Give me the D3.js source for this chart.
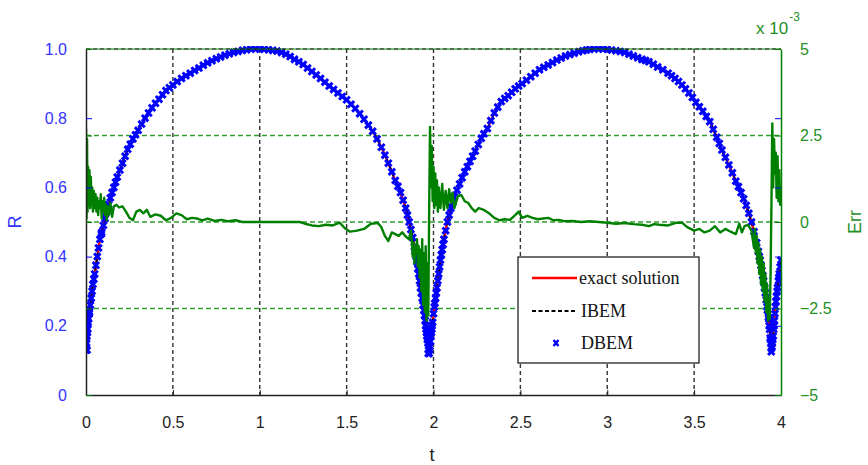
<!DOCTYPE html>
<html>
<head>
<meta charset="utf-8">
<script src="https://cdn.jsdelivr.net/npm/d3@7"></script>
<style>
  body { margin: 0; background: #fff; }
  svg { display: block; }
</style>
</head>
<body>
<div id="chart"></div>
<script>
// exact solution R(t) (IBEM overlaps it)
var exactT = [0, 0.005, 0.01, 0.015, 0.025, 0.035, 0.05, 0.065, 0.08, 0.10, 0.12, 0.14, 0.16, 0.18, 0.21, 0.24, 0.27, 0.30, 0.34, 0.38, 0.42, 0.46, 0.50, 0.55, 0.60, 0.65, 0.70, 0.75, 0.80, 0.85, 0.90, 0.95, 1.00, 1.05, 1.10, 1.15, 1.20, 1.25, 1.30, 1.35, 1.40, 1.45, 1.50, 1.55, 1.60, 1.65, 1.70, 1.74, 1.78, 1.81, 1.84, 1.86, 1.88, 1.90, 1.92, 1.94, 1.955, 1.965, 1.976, 1.985, 1.995, 2.005, 2.02, 2.04, 2.06, 2.08, 2.10, 2.12, 2.15, 2.18, 2.21, 2.24, 2.275, 2.31, 2.35, 2.39, 2.43, 2.47, 2.51, 2.56, 2.61, 2.66, 2.71, 2.76, 2.81, 2.86, 2.90, 2.95, 3.00, 3.05, 3.10, 3.15, 3.20, 3.24, 3.29, 3.35, 3.39, 3.43, 3.47, 3.51, 3.55, 3.59, 3.63, 3.66, 3.70, 3.74, 3.77, 3.80, 3.83, 3.86, 3.88, 3.90, 3.92, 3.935, 3.945, 3.955, 3.968, 3.98, 3.99, 4.00];
var exactR = [0.14, 0.17, 0.19, 0.22, 0.26, 0.30, 0.35, 0.40, 0.45, 0.49, 0.53, 0.57, 0.60, 0.63, 0.67, 0.71, 0.74, 0.765, 0.80, 0.83, 0.855, 0.88, 0.896, 0.915, 0.93, 0.945, 0.96, 0.972, 0.982, 0.99, 0.996, 1.0, 1.0, 0.998, 0.994, 0.985, 0.97, 0.955, 0.935, 0.915, 0.893, 0.873, 0.853, 0.828, 0.797, 0.762, 0.716, 0.67, 0.62, 0.585, 0.54, 0.50, 0.455, 0.40, 0.33, 0.26, 0.20, 0.16, 0.13, 0.17, 0.21, 0.255, 0.31, 0.39, 0.45, 0.50, 0.54, 0.573, 0.61, 0.645, 0.675, 0.705, 0.742, 0.77, 0.815, 0.848, 0.865, 0.885, 0.90, 0.92, 0.94, 0.954, 0.968, 0.98, 0.988, 0.995, 0.999, 1.0, 0.999, 0.995, 0.99, 0.98, 0.97, 0.963, 0.948, 0.93, 0.915, 0.896, 0.873, 0.846, 0.82, 0.79, 0.745, 0.708, 0.665, 0.618, 0.585, 0.548, 0.50, 0.44, 0.39, 0.33, 0.255, 0.19, 0.135, 0.17, 0.255, 0.31, 0.35, 0.39];
var ibemR = exactR; // dashed black line lies on top of the red one

// DBEM markers: the samples above plus these extra markers read in between and at the cusps
var dbemExtraT = [0, 0, 0.003, 0.008, 0.012, 0.02, 0.002, 0.006, 0.04, 0.09, 0.11, 0.13, 0.15, 0.17, 0.195, 0.225, 0.255, 0.285, 0.32, 0.36, 0.40, 0.44, 0.48, 0.525, 0.575, 0.625, 0.675, 0.725, 0.775, 0.825, 0.875, 0.925, 0.975, 1.025, 1.075, 1.125, 1.175, 1.225, 1.275, 1.325, 1.375, 1.425, 1.475, 1.525, 1.575, 1.625, 1.675, 1.72, 1.76, 1.795, 1.825, 1.85, 1.87, 1.89, 1.91, 1.93, 1.948, 1.96, 1.968, 1.972, 1.98, 1.982, 1.97, 1.975, 1.99, 2.0, 2.012, 2.03, 2.05, 2.07, 2.09, 2.11, 2.135, 2.165, 2.195, 2.225, 2.258, 2.29, 2.33, 2.37, 2.41, 2.45, 2.49, 2.535, 2.585, 2.635, 2.685, 2.735, 2.785, 2.835, 2.88, 2.925, 2.975, 3.025, 3.075, 3.125, 3.175, 3.22, 3.265, 3.32, 3.37, 3.41, 3.45, 3.49, 3.53, 3.57, 3.61, 3.645, 3.68, 3.72, 3.755, 3.785, 3.815, 3.845, 3.87, 3.89, 3.91, 3.928, 3.93, 3.938, 3.942, 3.948, 3.95, 3.944, 3.96, 3.962, 3.974, 3.985, 3.995,
  0.018, 0.03, 0.045, 0.057, 0.072, 0.088, 1.895, 1.905, 1.915, 1.925, 1.935, 1.945, 1.952, 1.958, 1.962, 1.988, 1.992, 2.008, 2.016, 2.025, 2.035, 2.045, 2.055, 3.875, 3.885, 3.895, 3.905, 3.915, 3.922, 3.932, 3.94, 3.952, 3.958, 3.965, 3.971, 3.978, 3.988];
var dbemExtraR = [0.13, 0.16, 0.15, 0.18, 0.21, 0.24, 0.2, 0.13, 0.32, 0.47, 0.51, 0.55, 0.585, 0.615, 0.65, 0.69, 0.725, 0.752, 0.783, 0.815, 0.843, 0.868, 0.888, 0.906, 0.923, 0.938, 0.953, 0.966, 0.977, 0.986, 0.993, 0.998, 1.0, 0.999, 0.996, 0.99, 0.978, 0.963, 0.945, 0.925, 0.904, 0.883, 0.863, 0.84, 0.813, 0.78, 0.74, 0.693, 0.645, 0.603, 0.563, 0.52, 0.478, 0.428, 0.365, 0.295, 0.23, 0.18, 0.15, 0.13, 0.14, 0.155, 0.12, 0.12, 0.19, 0.235, 0.28, 0.35, 0.42, 0.475, 0.52, 0.557, 0.592, 0.628, 0.66, 0.69, 0.724, 0.755, 0.793, 0.832, 0.857, 0.875, 0.893, 0.91, 0.93, 0.947, 0.961, 0.974, 0.984, 0.992, 0.997, 1.0, 1.0, 0.997, 0.993, 0.985, 0.975, 0.967, 0.956, 0.94, 0.923, 0.906, 0.885, 0.86, 0.833, 0.805, 0.768, 0.727, 0.687, 0.642, 0.602, 0.567, 0.525, 0.472, 0.415, 0.36, 0.295, 0.225, 0.22, 0.165, 0.15, 0.14, 0.15, 0.125, 0.2, 0.215, 0.285, 0.33, 0.37,
  0.235, 0.28, 0.335, 0.375, 0.425, 0.465, 0.415, 0.385, 0.35, 0.31, 0.28, 0.245, 0.215, 0.19, 0.17, 0.18, 0.2, 0.265, 0.295, 0.33, 0.37, 0.405, 0.435, 0.40, 0.375, 0.345, 0.31, 0.275, 0.245, 0.2, 0.16, 0.16, 0.19, 0.235, 0.27, 0.3, 0.34];

// error (x 10^-3)
var errT = [0, 0.003, 0.006, 0.009, 0.012, 0.016, 0.02, 0.024, 0.028, 0.032, 0.036, 0.04, 0.045, 0.05, 0.055, 0.06, 0.065, 0.07, 0.075, 0.08, 0.085, 0.09, 0.095, 0.1, 0.105, 0.11, 0.115, 0.12, 0.125, 0.13, 0.14, 0.15, 0.16, 0.175, 0.19, 0.21, 0.23, 0.25, 0.27, 0.29, 0.31, 0.33, 0.35, 0.37, 0.40, 0.43, 0.46, 0.49, 0.52, 0.55, 0.58, 0.61, 0.64, 0.67, 0.70, 0.74, 0.78, 0.82, 0.86, 0.90, 1.0, 1.1, 1.2, 1.23, 1.26, 1.30, 1.34, 1.38, 1.42, 1.46, 1.49, 1.52, 1.56, 1.60, 1.64, 1.68, 1.70, 1.72, 1.74, 1.76, 1.78, 1.80, 1.82, 1.84, 1.86, 1.87, 1.875, 1.88, 1.885, 1.89, 1.895, 1.90, 1.905, 1.91, 1.915, 1.92, 1.925, 1.93, 1.935, 1.94, 1.945, 1.95, 1.955, 1.96, 1.965, 1.97, 1.975, 1.98, 1.985, 1.99, 1.995, 2.0, 2.005, 2.01, 2.015, 2.02, 2.025, 2.03, 2.04, 2.05, 2.06, 2.07, 2.08, 2.09, 2.10, 2.11, 2.12, 2.14, 2.16, 2.18, 2.20, 2.22, 2.24, 2.26, 2.29, 2.32, 2.35, 2.38, 2.41, 2.44, 2.47, 2.49, 2.51, 2.54, 2.57, 2.60, 2.63, 2.66, 2.69, 2.72, 2.76, 2.80, 2.85, 2.90, 2.95, 3.0, 3.05, 3.10, 3.15, 3.20, 3.24, 3.27, 3.30, 3.35, 3.40, 3.43, 3.46, 3.50, 3.53, 3.56, 3.59, 3.62, 3.65, 3.68, 3.71, 3.74, 3.76, 3.775, 3.79, 3.81, 3.83, 3.845, 3.85, 3.855, 3.86, 3.865, 3.87, 3.875, 3.88, 3.885, 3.89, 3.895, 3.90, 3.905, 3.91, 3.915, 3.92, 3.925, 3.93, 3.935, 3.94, 3.945, 3.95, 3.955, 3.96, 3.965, 3.97, 3.975, 3.98, 3.985, 3.99, 3.995, 4.0];
var errV = [2.7, 0.1, 2.4, 0.3, 1.6, 0.5, 1.5, 0.4, 1.3, 0.5, 1.0, 0.3, 0.9, 0.4, 0.8, 0.3, 0.7, 0.2, 0.6, 0.4, 0.8, 0.1, 0.6, 0.3, 0.7, 0.2, 0.5, 0.05, 0.45, 0.2, 0.55, 0.15, 0.45, 0.5, 0.42, 0.45, 0.3, 0.12, 0.05, 0.3, 0.35, 0.25, 0.35, 0.15, 0.22, 0.18, 0.05, 0.12, 0.25, 0.2, 0.08, 0.12, 0.1, 0.05, 0.1, 0.03, 0.06, 0.02, 0.05, 0, 0, 0, 0, 0, -0.05, -0.1, -0.12, -0.08, -0.1, -0.02, -0.18, -0.28, -0.25, -0.2, -0.05, -0.03, -0.15, -0.4, -0.55, -0.3, -0.35, -0.4, -0.3, -0.42, -0.5, -0.25, -0.55, -1.0, -0.6, -1.2, -0.7, -0.9, -0.5, -1.3, -0.7, -1.6, -0.8, -2.0, -0.5, -2.4, -0.9, -2.6, -0.7, -2.85, -1.2, -2.7, 0.3, 2.75, 1.0, 2.2, 0.6, 1.6, 0.4, 1.4, 0.5, 1.2, 0.3, 1.0, 0.4, 1.1, 0.35, 0.9, 0.4, 0.95, 0.55, 0.85, 0.4, 0.75, 0.78, 0.6, 0.55, 0.4, 0.3, 0.4, 0.35, 0.25, 0.12, 0.05, 0.08, 0.06, 0.2, 0.3, 0.12, 0.18, 0.12, 0.08, 0.1, 0.12, 0.05, 0.06, 0.02, 0.03, 0, 0.02, 0, -0.02, -0.05, -0.03, -0.06, -0.08, -0.12, -0.06, -0.08, -0.1, -0.02, -0.02, -0.15, -0.25, -0.2, -0.3, -0.25, -0.12, -0.3, -0.2, -0.28, -0.35, -0.05, -0.3, -0.12, -0.08, -0.25, -0.75, -0.2, -0.9, -0.4, -1.2, -0.6, -1.5, -0.8, -1.8, -1.0, -2.0, -1.2, -2.3, -1.5, -2.6, -1.8, -2.85, -2.2, -2.8, -1.5, 0.5, 2.85, 1.0, 2.4, 1.4, 2.0, 0.7, 1.9, 0.6, 1.5, 0.5, 0.7];

var tTicks = [0, 0.5, 1, 1.5, 2, 2.5, 3, 3.5, 4];
var rTicks = [0, 0.2, 0.4, 0.6, 0.8, 1.0];
var errTicks = [-5, -2.5, 0, 2.5, 5];
var legendNames = ["exact solution", "IBEM", "DBEM"];

function draw() {
  var W = 868, H = 465;
  var pL = 86, pR = 781, pT = 49, pB = 395;
  var BLUE = "#0000ff", GREEN = "#008000", RED = "#ff0000";

  var svg = d3.select("#chart").append("svg")
    .attr("width", W).attr("height", H)
    .style("font-family", "'Liberation Sans', Arial, sans-serif");

  svg.append("rect").attr("width", W).attr("height", H).attr("fill", "#fff");

  var x = d3.scaleLinear().domain([0, 4]).range([pL, pR]);
  var yR = d3.scaleLinear().domain([0, 1]).range([pB, pT]);
  var yE = d3.scaleLinear().domain([-5, 5]).range([pB, pT]);

  svg.append("clipPath").attr("id", "clip")
    .append("rect").attr("x", pL).attr("y", pT - 3)
    .attr("width", pR - pL).attr("height", pB - pT + 6);

  // grid lines
  svg.append("g").selectAll("line")
    .data(tTicks.slice(1, -1))
    .enter().append("line")
    .attr("x1", d => x(d)).attr("x2", d => x(d))
    .attr("y1", pT).attr("y2", pB)
    .attr("stroke", "#333").attr("stroke-width", 1.4)
    .attr("stroke-dasharray", "4,3");

  svg.append("g").selectAll("line")
    .data(errTicks.slice(1, -1))
    .enter().append("line")
    .attr("x1", pL).attr("x2", pR)
    .attr("y1", d => yE(d)).attr("y2", d => yE(d))
    .attr("stroke", "#2f9e2f").attr("stroke-width", 1.4)
    .attr("stroke-dasharray", "5,3");

  var plot = svg.append("g").attr("clip-path", "url(#clip)");

  var exact = exactT.map((t, i) => ({ t: t, r: exactR[i] }));
  var ibem = exactT.map((t, i) => ({ t: t, r: ibemR[i] }));
  var dbem = exact.concat(dbemExtraT.map((t, i) => ({ t: t, r: dbemExtraR[i] })));
  var err = errT.map((t, i) => ({ t: t, e: errV[i] }));

  var lineR = d3.line().x(d => x(d.t)).y(d => yR(d.r)).curve(d3.curveMonotoneX);

  plot.append("path").datum(exact)
    .attr("d", lineR).attr("fill", "none")
    .attr("stroke", RED).attr("stroke-width", 2.4);

  plot.append("path").datum(ibem)
    .attr("d", lineR).attr("fill", "none")
    .attr("stroke", "#000").attr("stroke-width", 1.8)
    .attr("stroke-dasharray", "4,3");

  var xMark = "M-3.2,-3.2L3.2,3.2M-3.2,3.2L3.2,-3.2";
  plot.append("g").selectAll("path")
    .data(dbem)
    .enter().append("path")
    .attr("transform", d => "translate(" + x(d.t) + "," + yR(d.r) + ")")
    .attr("d", xMark)
    .attr("stroke", BLUE).attr("stroke-width", 3).attr("fill", "none");

  plot.append("path").datum(err)
    .attr("d", d3.line().x(d => x(d.t)).y(d => yE(d.e)))
    .attr("fill", "none").attr("stroke", GREEN)
    .attr("stroke-width", 2.4).attr("stroke-linejoin", "round");

  // top edge of the box
  svg.append("line").attr("x1", pL).attr("x2", pR).attr("y1", pT).attr("y2", pT)
    .attr("stroke", GREEN).attr("stroke-width", 1.2);
  svg.append("line").attr("x1", pL).attr("x2", pR).attr("y1", pT).attr("y2", pT)
    .attr("stroke", "#222").attr("stroke-width", 1.2).attr("stroke-dasharray", "4,3");

  var xAxis = svg.append("g")
    .attr("transform", "translate(0," + pB + ")")
    .call(d3.axisBottom(x).tickValues(tTicks).tickFormat(d3.format("")).tickSize(-5).tickSizeOuter(0).tickPadding(22));
  xAxis.select(".domain").attr("stroke", "#222").attr("stroke-width", 1.5);
  xAxis.selectAll(".tick line").attr("stroke", "#222");
  xAxis.selectAll("text").attr("fill", "#222").style("font-size", "16px");

  var yAxisL = svg.append("g")
    .attr("transform", "translate(" + pL + ",0)")
    .call(d3.axisLeft(yR).tickValues(rTicks)
      .tickFormat(d => d === 0 ? "0" : d3.format(".1f")(d))
      .tickSize(-6).tickSizeOuter(0).tickPadding(19));
  yAxisL.select(".domain").attr("stroke", "#222").attr("stroke-width", 1.5);
  yAxisL.selectAll(".tick line").attr("stroke", BLUE);
  yAxisL.selectAll("text").attr("fill", "#3333ff").style("font-size", "16px");

  // R ticks repeated on the right edge
  var yAxisL2 = svg.append("g")
    .attr("transform", "translate(" + pR + ",0)")
    .call(d3.axisLeft(yR).tickValues(rTicks).tickFormat("").tickSize(6).tickSizeOuter(0));
  yAxisL2.select(".domain").remove();
  yAxisL2.selectAll(".tick line").attr("stroke", BLUE);

  var yAxisR = svg.append("g")
    .attr("transform", "translate(" + pR + ",0)")
    .call(d3.axisRight(yE).tickValues(errTicks).tickFormat(d3.format("")).tickSize(-6).tickSizeOuter(0).tickPadding(19));
  yAxisR.select(".domain").attr("stroke", GREEN).attr("stroke-width", 1.5);
  yAxisR.selectAll(".tick line").attr("stroke", GREEN);
  yAxisR.selectAll("text").attr("fill", "#1f8f1f").style("font-size", "16px");

  var yAxisR2 = svg.append("g")
    .attr("transform", "translate(" + pL + ",0)")
    .call(d3.axisRight(yE).tickValues(errTicks).tickFormat("").tickSize(6).tickSizeOuter(0));
  yAxisR2.select(".domain").remove();
  yAxisR2.selectAll(".tick line").attr("stroke", GREEN);

  // labels
  svg.append("text").attr("x", 432).attr("y", 461)
    .attr("text-anchor", "middle").attr("fill", "#222")
    .style("font-size", "18px").text("t");

  svg.append("text")
    .attr("transform", "translate(21,222) rotate(-90)")
    .attr("text-anchor", "middle").attr("fill", "#3333ff")
    .style("font-size", "18px").text("R");

  svg.append("text")
    .attr("transform", "translate(861,222) rotate(-90)")
    .attr("text-anchor", "middle").attr("fill", "#1f8f1f")
    .style("font-size", "18px").text("Err");

  var sci = svg.append("text").attr("x", 756).attr("y", 34)
    .attr("fill", "#1f8f1f").style("font-size", "17px");
  sci.append("tspan").text("x 10");
  sci.append("tspan").attr("dy", -13).attr("dx", 1).style("font-size", "12px").text("-3");

  // legend
  var lg = svg.append("g");
  lg.append("rect").attr("x", 518).attr("y", 257)
    .attr("width", 181).attr("height", 106)
    .attr("fill", "#fff").attr("stroke", "#222").attr("stroke-width", 1.3);

  var rowY = [278, 311, 343];
  lg.append("line").attr("x1", 532).attr("x2", 577).attr("y1", rowY[0]).attr("y2", rowY[0])
    .attr("stroke", RED).attr("stroke-width", 2.5);
  lg.append("line").attr("x1", 532).attr("x2", 577).attr("y1", rowY[1]).attr("y2", rowY[1])
    .attr("stroke", "#000").attr("stroke-width", 2).attr("stroke-dasharray", "4,2.5");
  lg.append("path").attr("transform", "translate(556," + rowY[2] + ")")
    .attr("d", "M-2.5,-3L2.5,3M-2.5,3L2.5,-3")
    .attr("stroke", BLUE).attr("stroke-width", 2.4);

  lg.selectAll("text.lbl")
    .data(legendNames)
    .enter().append("text")
    .attr("class", "lbl")
    .attr("x", (d, i) => i === 0 ? 579 : 581)
    .attr("y", (d, i) => rowY[i] + 6)
    .attr("fill", "#111")
    .style("font-family", "'Liberation Serif', 'Times New Roman', serif")
    .style("font-size", "18px")
    .text(d => d);
}

draw();
</script>
</body>
</html>
